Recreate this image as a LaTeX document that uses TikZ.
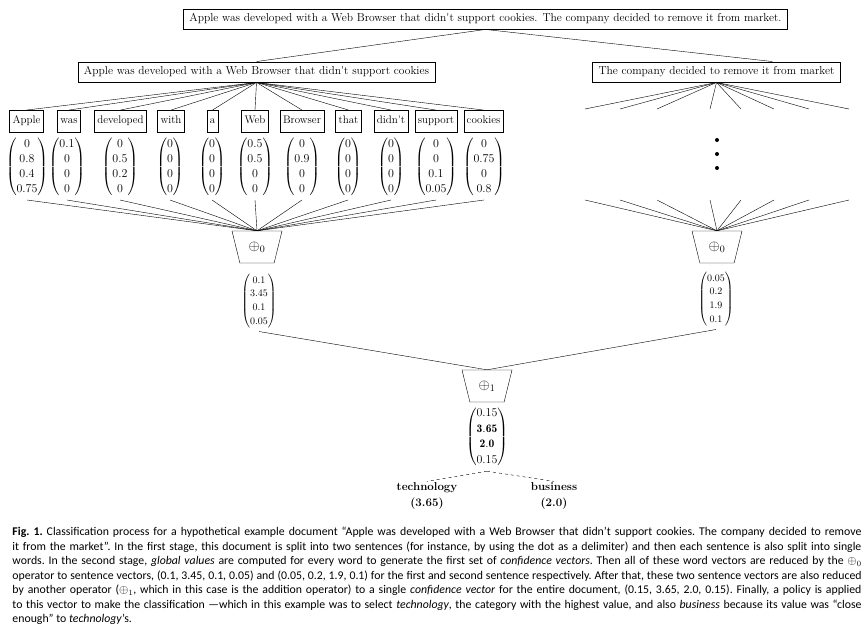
\documentclass[tikz,border=0pt]{standalone}
\usepackage{amsmath}
\usepackage{fontspec}
\newfontfamily\capfont{Carlito}
\usetikzlibrary{shapes.geometric}

\begin{document}
\begin{tikzpicture}[x=1pt, y=-1pt,
		sent/.style={draw, inner xsep=6pt, inner ysep=5pt, text height=8pt, text depth=2.5pt, font=\fontsize{11.5}{13}\selectfont},
		word/.style={draw, inner xsep=3pt, inner ysep=5.5pt, text height=8pt, text depth=2.5pt, font=\fontsize{11}{13}\selectfont},
		wvec/.style={inner sep=1pt, outer sep=2pt, font=\fontsize{11.5}{12}\selectfont\def\arraystretch{1.25}},
		svec/.style={inner sep=1pt, outer sep=2pt, font=\fontsize{10}{11}\selectfont\def\arraystretch{1.25}},
		fvec/.style={inner sep=1pt, outer sep=2pt, font=\fontsize{11.5}{12}\selectfont\def\arraystretch{1.3}},
		op/.style={draw, trapezium, trapezium angle=70, trapezium stretches=true, shape border rotate=180, minimum width=50pt, minimum height=32pt, inner sep=0pt, font=\fontsize{14}{16}\selectfont},
		lab/.style={align=center, inner sep=1pt, font=\fontsize{11.5}{16}\selectfont\bfseries},
		capt/.style={text width=849pt, align=justify, inner sep=0pt, font=\capfont\fontsize{11.8}{14.5}\selectfont\frenchspacing}]
	\useasboundingbox (0, 0) rectangle (864, 629);

	\node (doc) at (485.5, 19) [sent] {Apple was developed with a Web Browser that didn{\textquotesingle}t support cookies. The company decided to remove it from market.};
	\node (s1) at (256.5, 72) [sent] {Apple was developed with a Web Browser that didn{\textquotesingle}t support cookies};
	\node (s2) at (716.5, 72) [sent] {The company decided to remove it from market};
	\draw (doc.south) -- (s1.north);
	\draw (doc.south) -- ([xshift=56pt]s2.north);

	\node (w1) at (26.5, 121) [word] {Apple};
	\node (w2) at (69, 121) [word] {was};
	\node (w3) at (120.5, 121) [word] {developed};
	\node (w4) at (171, 121) [word] {with};
	\node (w5) at (212.5, 121) [word] {a};
	\node (w6) at (255, 121) [word] {Web};
	\node (w7) at (302, 121) [word] {Browser};
	\node (w8) at (348.5, 121) [word] {that};
	\node (w9) at (391, 121) [word] {didn{\textquotesingle}t};
	\node (w10) at (436, 121) [word] {support};
	\node (w11) at (483.5, 121) [word] {cookies};

	\node (v1) at (27, 167) [wvec] {$\begin{pmatrix}0\\0.8\\0.4\\0.75\end{pmatrix}$};
	\node (v2) at (67, 167) [wvec] {$\begin{pmatrix}0.1\\0\\0\\0\end{pmatrix}$};
	\node (v3) at (120, 167) [wvec] {$\begin{pmatrix}0\\0.5\\0.2\\0\end{pmatrix}$};
	\node (v4) at (170, 167) [wvec] {$\begin{pmatrix}0\\0\\0\\0\end{pmatrix}$};
	\node (v5) at (212, 167) [wvec] {$\begin{pmatrix}0\\0\\0\\0\end{pmatrix}$};
	\node (v6) at (255, 167) [wvec] {$\begin{pmatrix}0.5\\0.5\\0\\0\end{pmatrix}$};
	\node (v7) at (302, 167) [wvec] {$\begin{pmatrix}0\\0.9\\0\\0\end{pmatrix}$};
	\node (v8) at (348, 167) [wvec] {$\begin{pmatrix}0\\0\\0\\0\end{pmatrix}$};
	\node (v9) at (391, 167) [wvec] {$\begin{pmatrix}0\\0\\0\\0\end{pmatrix}$};
	\node (v10) at (436, 167) [wvec] {$\begin{pmatrix}0\\0\\0.1\\0.05\end{pmatrix}$};
	\node (v11) at (484, 167) [wvec] {$\begin{pmatrix}0\\0.75\\0\\0.8\end{pmatrix}$};

	\node (opa) at (257, 247) [op] {$\oplus_0$};
	\node (opb) at (717, 247) [op] {$\oplus_0$};
	\foreach \i in {1,...,11} {
		\draw (s1.south) -- (w\i.north);
		\draw (v\i.south) -- (opa.north);
	}

	\foreach \x in {585, 620, 657, 710, 741, 774, 809, 849} {
		\coordinate (rw\x) at (\x, 109);
		\coordinate (rv\x) at (\x, 200);
		\draw (s2.south) -- (rw\x);
		\draw (rv\x) -- (opb.north);
	}
	\foreach \y in {140, 154, 168}
		\fill (717, \y) circle[radius=2pt];

	\node (ra) at (259, 301) [svec] {$\begin{pmatrix}0.1\\3.45\\0.1\\0.05\end{pmatrix}$};
	\node (rb) at (716, 299) [svec] {$\begin{pmatrix}0.05\\0.2\\1.9\\0.1\end{pmatrix}$};

	\node (opc) at (487, 386) [op] {$\oplus_1$};
	\draw (ra.south) -- (opc.north);
	\draw (rb.south) -- (opc.north);

	\node (fin) at (487, 437) [fvec] {$\begin{pmatrix}0.15\\\mathbf{3.65}\\\mathbf{2.0}\\0.15\end{pmatrix}$};
	\node (tech) at (427, 496) [lab] {technology\\(3.65)};
	\node (bus) at (554, 496) [lab] {business\\(2.0)};
	\draw [dashed] (fin.south) -- (tech.north);
	\draw [dashed] (fin.south) -- (bus.north);

	\node (cap) at (437, 576) [capt] {\textbf{Fig. 1.} Classification process for a hypothetical example document “Apple was developed with a Web Browser that didn’t support cookies. The company decided to remove\linebreak
	it from the market”. In the first stage, this document is split into two sentences (for instance, by using the dot as a delimiter) and then each sentence is also split into single\linebreak
	words. In the second stage, \emph{global values} are computed for every word to generate the first set of \emph{confidence vectors}. Then all of these word vectors are reduced by the $\oplus_0$\linebreak
	operator to sentence vectors, (0.1, 3.45, 0.1, 0.05) and (0.05, 0.2, 1.9, 0.1) for the first and second sentence respectively. After that, these two sentence vectors are also reduced\linebreak
	by another operator ($\oplus_1$, which in this case is the addition operator) to a single \emph{confidence vector} for the entire document, (0.15, 3.65, 2.0, 0.15). Finally, a policy is applied\linebreak
	to this vector to make the classification —which in this example was to select \emph{technology}, the category with the highest value, and also \emph{business} because its value was “close\linebreak
	enough” to \emph{technology}’s.};
\end{tikzpicture}
\end{document}
